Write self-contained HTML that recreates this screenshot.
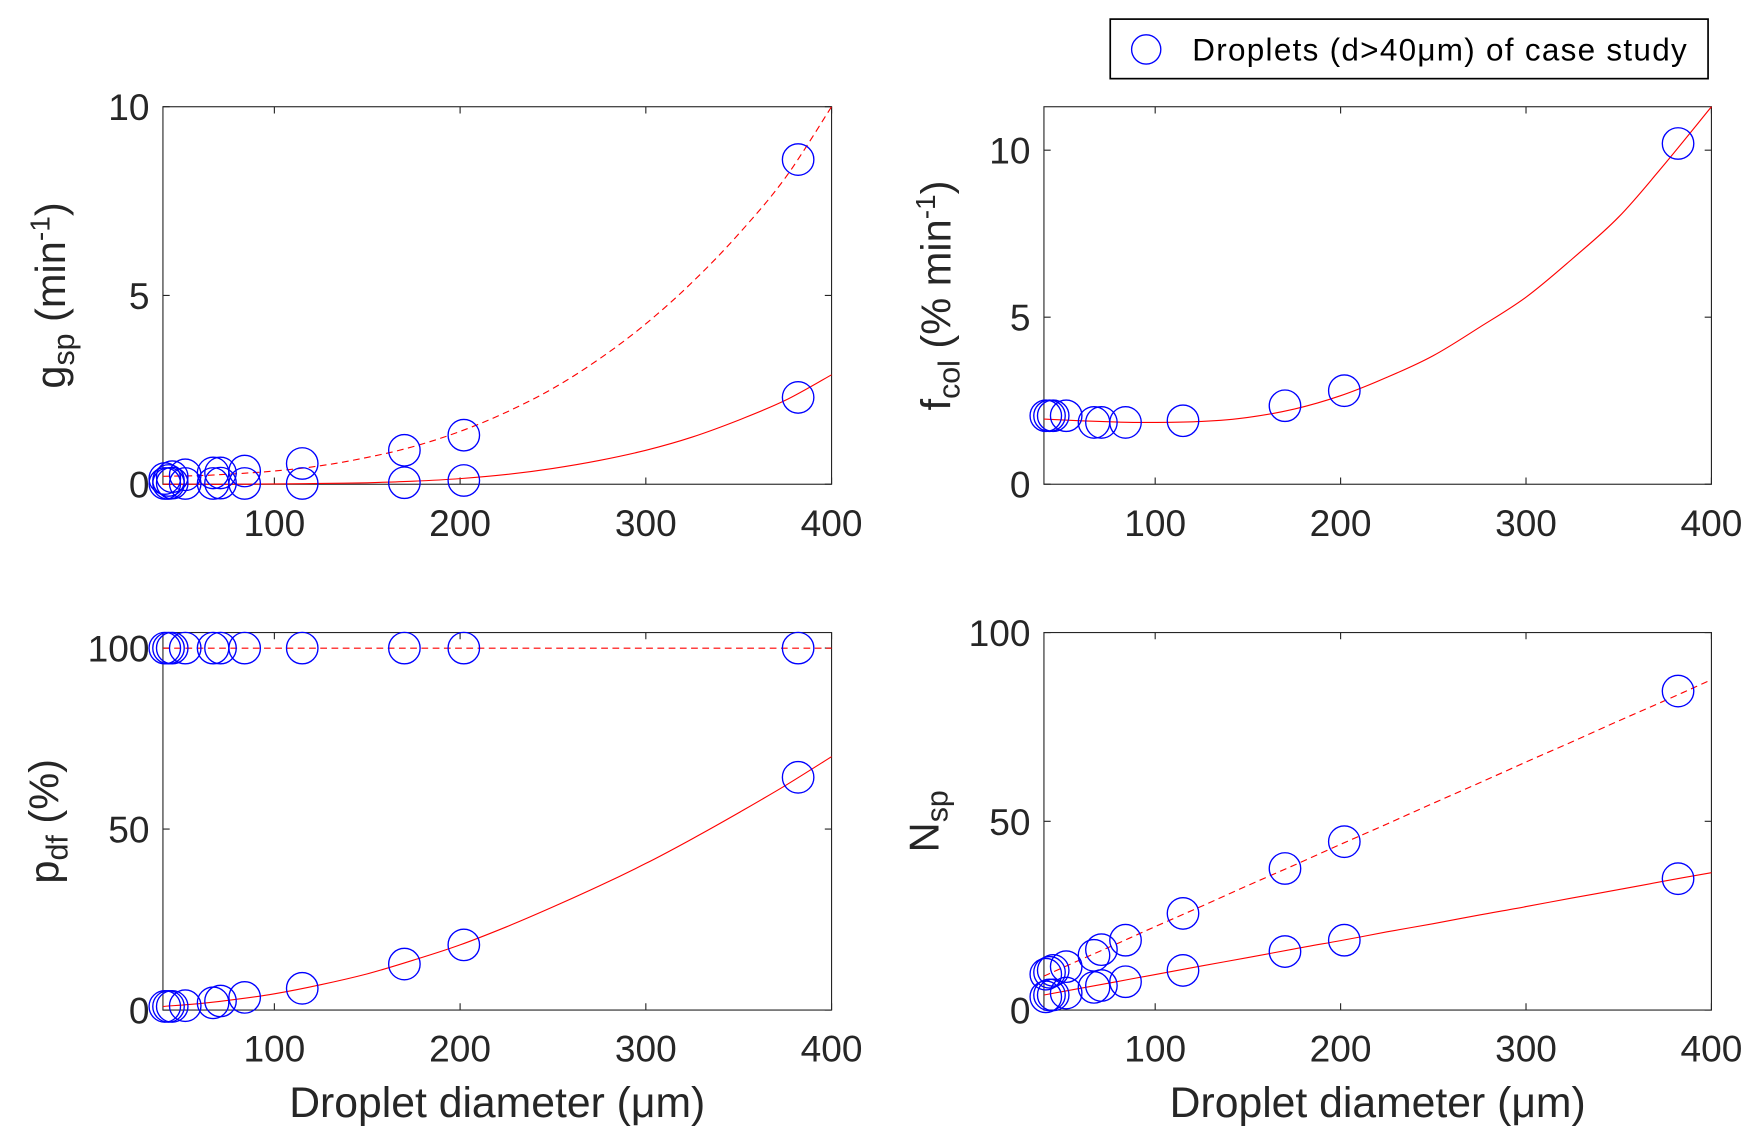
<!DOCTYPE html>
<html><head><meta charset="utf-8"><style>
html,body{margin:0;padding:0;background:#fff;}
svg{display:block;}
text{font-family:"Liberation Sans",Arial,sans-serif;fill:#262626;}
</style></head><body>
<svg id="fig" width="1762" height="1146" viewBox="0 0 1568 1020" preserveAspectRatio="none" xmlns="http://www.w3.org/2000/svg">
<g>
<rect x="988" y="17" width="532" height="53" fill="#fff" stroke="#000" stroke-width="1.5"/>
<circle cx="1020" cy="44" r="13" fill="none" stroke="#0000ff" stroke-width="1.2"/>
<text x="1061" y="54" font-size="28" textLength="440" style="fill:#000">Droplets (d&gt;40μm) of case study</text>
</g>
</svg>
<script>
// shared x data (droplet diameter, µm)
const dropletX = [41, 43, 45, 52, 67, 71, 84, 115, 170, 202, 382];
const curveX = [40, 60, 80, 100, 125, 150, 175, 200, 225, 250, 275, 300, 325, 350, 375, 400];
const xTicks = [100, 200, 300, 400];
// g_sp
const gDashPts = [0.15, 0.1, 0.2, 0.25, 0.3, 0.3, 0.35, 0.55, 0.9, 1.3, 8.6];
const gSolidPts = [0.02, 0.02, 0.03, 0.02, 0.02, 0.03, 0.02, 0.02, 0.04, 0.1, 2.3];
const gDashCurve = [0.21, 0.23, 0.28, 0.35, 0.49, 0.71, 1.0, 1.4, 1.91, 2.54, 3.32, 4.25, 5.35, 6.63, 8.11, 10.0];
const gSolidCurve = [0, 0, 0, 0.01, 0.02, 0.04, 0.08, 0.15, 0.26, 0.42, 0.63, 0.9, 1.25, 1.7, 2.22, 2.9];
const gTicks = [0, 5, 10];
// f_col
const fPts = [2.05, 2.05, 2.05, 2.05, 1.85, 1.85, 1.85, 1.9, 2.35, 2.8, 10.2];
const fCurve = [1.95, 1.9, 1.86, 1.85, 1.88, 2.0, 2.25, 2.65, 3.2, 3.85, 4.7, 5.6, 6.75, 8.0, 9.6, 11.3];
const fTicks = [0, 5, 10];
// p_df
const pDashPts = [100, 100, 100, 100, 100, 100, 100, 100, 100, 100, 100];
const pSolidPts = [1, 1, 1, 1.2, 2, 2.5, 3.5, 6, 12.7, 18, 64.3];
const pDashCurve = [100, 100, 100, 100, 100, 100, 100, 100, 100, 100, 100, 100, 100, 100, 100, 100];
const pSolidCurve = [1, 1.8, 3, 4.5, 7, 10, 13.8, 18, 23, 28.5, 34.3, 40.5, 47.3, 54.5, 62, 70];
const pTicks = [0, 50, 100];
// N_sp
const nDashPts = [9.5, 10, 10.5, 11.5, 14.5, 16, 18.5, 25.6, 37.5, 44.6, 84.5];
const nSolidPts = [3.5, 4, 4, 4.5, 6, 6.5, 7.5, 10.5, 15.5, 18.5, 34.8];
const nDashCurve = [9, 13.4, 17.7, 22.1, 27.5, 33, 38.4, 43.9, 49.3, 54.8, 60.2, 65.7, 71.1, 76.6, 82, 87.5];
const nSolidCurve = [4, 5.8, 7.6, 9.4, 11.7, 13.9, 16.2, 18.4, 20.7, 22.9, 25.2, 27.4, 29.7, 31.9, 34.2, 36.4];
const nTicks = [0, 50, 100];

const NS = "http://www.w3.org/2000/svg";
const svg = document.getElementById('fig');
function mk(tag, attrs, parent) {
  const e = document.createElementNS(NS, tag);
  for (const k in attrs) e.setAttribute(k, attrs[k]);
  (parent || svg).appendChild(e);
  return e;
}
function smoothPath(pts) {
  let d = 'M' + pts[0][0].toFixed(1) + ',' + pts[0][1].toFixed(1);
  for (let i = 0; i < pts.length - 1; i++) {
    const p0 = pts[Math.max(0, i - 1)], p1 = pts[i], p2 = pts[i + 1], p3 = pts[Math.min(pts.length - 1, i + 2)];
    const c1x = p1[0] + (p2[0] - p0[0]) / 6, c1y = p1[1] + (p2[1] - p0[1]) / 6;
    const c2x = p2[0] - (p3[0] - p1[0]) / 6, c2y = p2[1] - (p3[1] - p1[1]) / 6;
    d += `C${c1x.toFixed(1)},${c1y.toFixed(1)} ${c2x.toFixed(1)},${c2y.toFixed(1)} ${p2[0].toFixed(1)},${p2[1].toFixed(1)}`;
  }
  return d;
}
function panel(cfg) {
  const g = mk('g', {});
  
  
  const L = cfg.x0, R = cfg.x1, T = cfg.y0, B = cfg.y1;
  const sx = v => L + (v - 40) / 360 * (R - L);
  const sy = v => B - (v - 0) / cfg.ymax * (B - T);
  const box = mk('rect', {x: L, y: T, width: R - L, height: B - T, fill: 'none', stroke: '#262626', 'stroke-width': 1}, g);
  
  
  xTicks.forEach(t => {
    const X = sx(t);
    const tk = mk('path', {d: `M${X},${B}v-6M${X},${T}v6`, stroke: '#262626', 'stroke-width': 1}, g);
    
    
    const lb = mk('text', {x: X, y: B + 46, 'font-size': 33, 'text-anchor': 'middle'}, g);
    lb.textContent = t;
    
    
  });
  cfg.yticks.forEach(t => {
    const Y = sy(t);
    const tk = mk('path', {d: `M${L},${Y}h6M${R},${Y}h-6`, stroke: '#262626', 'stroke-width': 1}, g);
    
    
    const lb = mk('text', {x: L - 12, y: Y + 12, 'font-size': 33, 'text-anchor': 'end'}, g);
    lb.textContent = t;
    
    
  });
  cfg.curves.forEach(c => {
    const pts = curveX.map((x, i) => [sx(x), sy(c.y[i])]);
    const p = mk('path', {d: smoothPath(pts), fill: 'none', stroke: '#ff0000', 'stroke-width': 1, 'stroke-dasharray': c.dash ? '6,4' : 'none'}, g);
    
    
  });
  cfg.points.forEach(arr => {
    arr.forEach((v, i) => {
      const c = mk('circle', {cx: sx(dropletX[i]), cy: sy(v), r: 14, fill: 'none', stroke: '#0000ff', 'stroke-width': 1.2}, g);
      
      
    });
  });
  if (cfg.xlabel) {
    const xl = mk('text', {x: (L + R) / 2, y: B + 95, 'font-size': 38, 'text-anchor': 'middle'}, g);
    xl.textContent = 'Droplet diameter (μm)';
    
    
  }
  const yl = mk('text', {transform: `translate(${cfg.ylx},${(T + B) / 2}) rotate(-90)`, 'font-size': 37, 'text-anchor': 'middle'}, g);
  yl.innerHTML = cfg.ylabel;
  
  
}
panel({name: 'panel-gsp', x0: 145, x1: 740, y0: 95, y1: 431, ymax: 10, yticks: gTicks,
  curves: [{y: gDashCurve, dash: true}, {y: gSolidCurve, dash: false}], points: [gDashPts, gSolidPts],
  ylx: 58, ylabel: 'g<tspan font-size="27" dy="8">sp</tspan><tspan dy="-8"> (min</tspan><tspan font-size="25" dy="-14">-1</tspan><tspan dy="14">)</tspan>'});
panel({name: 'panel-fcol', x0: 929, x1: 1523, y0: 95, y1: 431, ymax: 11.3, yticks: fTicks,
  curves: [{y: fCurve, dash: false}], points: [fPts],
  ylx: 846, ylabel: 'f<tspan font-size="27" dy="8">col</tspan><tspan dy="-8"> (% min</tspan><tspan font-size="25" dy="-14">-1</tspan><tspan dy="14">)</tspan>'});
panel({name: 'panel-pdf', x0: 145, x1: 740, y0: 563, y1: 899, ymax: 104.3, yticks: pTicks, xlabel: true,
  curves: [{y: pDashCurve, dash: true}, {y: pSolidCurve, dash: false}], points: [pDashPts, pSolidPts],
  ylx: 52, ylabel: 'p<tspan font-size="27" dy="8">df</tspan><tspan dy="-8"> (%)</tspan>'});
panel({name: 'panel-nsp', x0: 929, x1: 1523, y0: 563, y1: 899, ymax: 100, yticks: nTicks, xlabel: true,
  curves: [{y: nDashCurve, dash: true}, {y: nSolidCurve, dash: false}], points: [nDashPts, nSolidPts],
  ylx: 835, ylabel: 'N<tspan font-size="27" dy="8">sp</tspan>'});
</script>
</body></html>
